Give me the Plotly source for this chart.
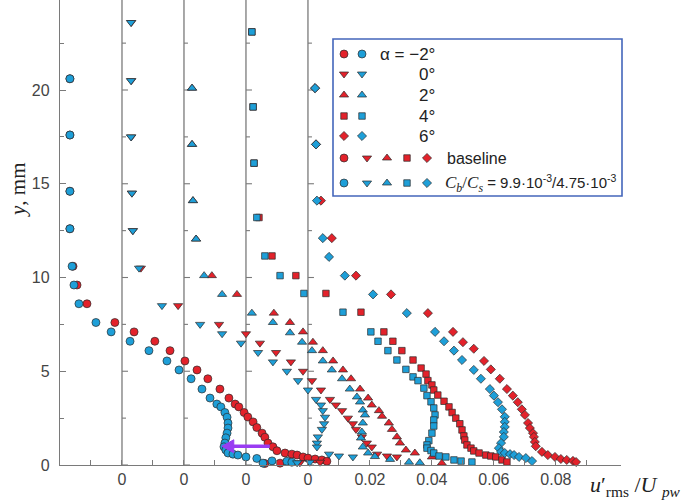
import plotly.graph_objects as go

# ---------------- data (u'rms/Upw raw values, y in mm) ----------------
alphas = ["-2", "0", "2", "4", "6"]
profile_offsets = [-0.08, -0.06, -0.04, -0.02, 0.0]   # horizontal shift of each profile

y_m2_base = [20.6, 17.6, 14.6, 12.6, 10.6, 9.6, 8.6, 7.6, 7.1, 6.6, 6.1, 5.55, 5.07, 4.6, 4.05, 3.57, 3.25, 3.1, 2.8,
             2.56, 2.3, 2.0, 1.7, 1.48, 1.17, 0.97, 0.76, 0.64, 0.58, 0.53, 0.43, 0.37, 0.32, 0.27, 0.2, 0.1, 0.08]
u_m2_base = [0.0032, 0.0032, 0.0032, 0.0032, 0.0042, 0.0055, 0.0087, 0.0177, 0.0239, 0.0306, 0.0355, 0.0403, 0.0442,
             0.0477, 0.0516, 0.0545, 0.0565, 0.0577, 0.0594, 0.0606, 0.0623, 0.0635, 0.0652, 0.0661, 0.0671, 0.0687,
             0.070, 0.0726, 0.0748, 0.0765, 0.0784, 0.080, 0.0823, 0.0845, 0.0861, 0.071, 0.0661]
y_m2_ctrl = [20.6, 17.6, 14.6, 12.6, 10.6, 9.6, 8.6, 7.6, 7.1, 6.6, 6.1, 5.55, 5.07, 4.6, 4.05, 3.57, 3.25, 3.1, 2.8,
             2.55, 2.24, 1.97, 1.7, 1.45, 1.17, 0.97, 0.8, 0.64, 0.58, 0.53, 0.43, 0.35, 0.22, 0.2, 0.15, 0.1]
u_m2_ctrl = [0.0032, 0.0032, 0.0032, 0.0032, 0.0039, 0.0045, 0.0061, 0.0116, 0.0165, 0.0226, 0.0287, 0.0345, 0.0384,
             0.0423, 0.0458, 0.0484, 0.0506, 0.0519, 0.0532, 0.0539, 0.0542, 0.0542, 0.0539, 0.0535, 0.0532, 0.0529,
             0.0535, 0.0542, 0.0558, 0.0574, 0.060, 0.0635, 0.0684, 0.0732, 0.0748, 0.0655]

y_0_base = [23.6, 20.5, 17.5, 14.5, 12.5, 10.5, 8.5, 7.5, 7.0, 6.5, 6.0, 5.5, 5.0, 4.5, 4.0, 3.5, 3.2, 2.9, 2.5, 2.2,
            1.9, 1.5, 1.17, 0.96, 0.58, 0.48, 0.43, 0.15, 0.12]
u_0_base = [0.003, 0.003, 0.003, 0.0032, 0.0035, 0.0061, 0.0181, 0.0313, 0.040, 0.0445, 0.0497, 0.0545, 0.0584, 0.0613,
            0.0642, 0.0671, 0.069, 0.071, 0.0729, 0.0745, 0.0755, 0.0774, 0.079, 0.0806, 0.0823, 0.0855, 0.0887,
            0.0639, 0.0574]
y_0_ctrl = [23.6, 20.5, 17.5, 14.5, 12.5, 10.5, 8.5, 7.5, 7.0, 6.5, 6.0, 5.5, 5.0, 4.5, 4.0, 3.5, 3.2, 2.9, 2.55, 2.2,
            1.9, 1.5, 1.17, 0.96, 0.58, 0.48, 0.43, 0.15, 0.12]
u_0_ctrl = [0.0029, 0.0029, 0.0029, 0.0032, 0.0035, 0.0055, 0.0129, 0.0252, 0.0323, 0.0384, 0.0439, 0.0487, 0.0532,
            0.0568, 0.060, 0.0626, 0.0642, 0.0648, 0.0655, 0.0652, 0.0645, 0.0632, 0.0629, 0.0629, 0.0668, 0.070,
            0.0745, 0.0606, 0.0565]

y_2_base = [20.1, 17.1, 14.1, 12.05, 10.1, 9.1, 8.1, 7.6, 7.1, 6.55, 6.1, 5.55, 5.07, 4.6, 4.05, 3.57, 3.2, 2.9, 2.6,
            2.24, 1.9, 1.5, 1.17, 0.8, 0.64, 0.43, 0.1]
u_2_base = [0.0026, 0.0026, 0.0029, 0.0039, 0.009, 0.0171, 0.029, 0.0342, 0.0384, 0.0416, 0.0448, 0.0481, 0.0513,
            0.0539, 0.0568, 0.0594, 0.0606, 0.0629, 0.0639, 0.0661, 0.0671, 0.0687, 0.0697, 0.0716, 0.0745, 0.080,
            0.0832]
y_2_ctrl = [20.1, 17.1, 14.1, 12.05, 10.1, 9.1, 8.1, 7.6, 7.05, 6.55, 6.1, 5.55, 5.07, 4.6, 4.05, 3.63, 3.36, 2.93,
            2.67, 2.24, 1.76, 1.44, 0.96, 0.64, 0.45, 0.3, 0.15, 0.12]
u_2_ctrl = [0.0026, 0.0026, 0.0029, 0.0039, 0.0065, 0.0123, 0.0219, 0.0287, 0.0342, 0.0381, 0.0413, 0.0448, 0.0477,
            0.051, 0.0535, 0.0558, 0.0568, 0.0577, 0.0584, 0.0577, 0.0574, 0.0571, 0.0577, 0.0594, 0.0616, 0.0665,
            0.0726, 0.0761]

y_4_base = [23.1, 19.1, 16.1, 13.2, 11.15, 10.1, 9.15, 8.15, 7.1, 6.6, 6.1, 5.6, 5.17, 4.85, 4.5, 4.27, 4.0, 3.73, 3.4,
            3.1, 2.8, 2.5, 2.2, 1.87, 1.55, 1.33, 1.07, 0.9, 0.75, 0.64, 0.53, 0.48, 0.43, 0.27, 0.16]
u_4_base = [0.0019, 0.0023, 0.0026, 0.0042, 0.0084, 0.0161, 0.0258, 0.0371, 0.0445, 0.0474, 0.0503, 0.0539, 0.0565,
            0.0581, 0.0587, 0.06, 0.0606, 0.0619, 0.0639, 0.0655, 0.0665, 0.0677, 0.069, 0.0697, 0.0703, 0.0706,
            0.0713, 0.0726, 0.0735, 0.0752, 0.0774, 0.079, 0.0806, 0.0826, 0.0842]
y_4_ctrl = [23.1, 19.1, 16.1, 13.2, 11.15, 10.1, 9.15, 8.15, 7.1, 6.6, 6.1, 5.6, 5.1, 4.7, 4.5, 4.1, 3.7, 3.37, 3.04,
            2.67, 2.4, 2.08, 1.7, 1.3, 1.07, 0.9, 0.77, 0.64, 0.48, 0.43, 0.27, 0.21, 0.16]
u_4_ctrl = [0.0019, 0.0023, 0.0026, 0.0035, 0.0061, 0.011, 0.0187, 0.0313, 0.0403, 0.0426, 0.0458, 0.0487, 0.0516,
            0.0539, 0.0555, 0.0574, 0.0584, 0.0597, 0.0606, 0.061, 0.0606, 0.0606, 0.06, 0.059, 0.0584, 0.0584,
            0.0597, 0.0606, 0.0623, 0.0645, 0.0671, 0.0694, 0.0729]

y_6_base = [20.1, 17.1, 14.1, 12.1, 10.1, 9.1, 8.1, 7.1, 6.55, 6.2, 5.55, 5.1, 4.6, 4.05, 3.7, 3.35, 2.97, 2.67, 2.24,
            1.97, 1.7, 1.5, 1.23, 1.0, 0.7, 0.53, 0.43, 0.32, 0.27, 0.22, 0.16]
u_6_base = [0.0023, 0.0026, 0.0042, 0.0077, 0.0155, 0.0268, 0.0387, 0.0468, 0.05, 0.0535, 0.0568, 0.059, 0.0619,
            0.0642, 0.0661, 0.0677, 0.069, 0.07, 0.071, 0.0716, 0.0726, 0.0729, 0.0732, 0.0735, 0.0755, 0.0774,
            0.0797, 0.0816, 0.0835, 0.0855, 0.0865]
y_6_ctrl = [20.1, 17.1, 14.1, 12.1, 11.1, 10.1, 9.1, 8.1, 7.1, 6.6, 6.1, 5.6, 5.07, 4.6, 4.05, 3.7, 3.35, 2.97, 2.57,
            2.3, 2.03, 1.76, 1.5, 1.17, 0.9, 0.7, 0.64, 0.58, 0.53, 0.43, 0.37, 0.21]
u_6_ctrl = [0.0023, 0.0026, 0.0029, 0.0048, 0.0068, 0.0119, 0.021, 0.0319, 0.041, 0.0439, 0.0471, 0.0497, 0.0535,
            0.0558, 0.0587, 0.06, 0.0613, 0.0626, 0.0635, 0.0635, 0.0635, 0.0632, 0.0632, 0.0623, 0.0616, 0.0623,
            0.0635, 0.0652, 0.0665, 0.0681, 0.0703, 0.0723]

x_tick_vals = [-0.06, -0.04, -0.02, 0.0, 0.02, 0.04, 0.06, 0.08]
x_tick_text = ["0", "0", "0", "0", "0.02", "0.04", "0.06", "0.08"]
x_minor_vals = [-0.07, -0.05, -0.03, -0.01, 0.01, 0.03, 0.05, 0.07, 0.09]
y_tick_vals = [0, 5, 10, 15, 20]
y_minor_vals = [2.5, 7.5, 12.5, 17.5, 22.5]

# ---------------- styling ----------------
RED = "#e3222b"
BLUE = "#1e9fd8"
EDGE = "#2b2b2b"
GRAY = "#7a7a7a"
PURPLE = "#9a3cf2"
symbols = ["circle", "triangle-down", "triangle-up", "square", "diamond"]
sizes = [8, 8, 8, 6.5, 7]

# plot-area geometry in pixels (used only to place legend/titles)
PL, PT, PW, PH = 60, 0, 561, 465


def px_to_paper(px, py):
    return (px - PL) / PW, (PT + PH - py) / PH


base_y = [y_m2_base, y_0_base, y_2_base, y_4_base, y_6_base]
base_u = [u_m2_base, u_0_base, u_2_base, u_4_base, u_6_base]
ctrl_y = [y_m2_ctrl, y_0_ctrl, y_2_ctrl, y_4_ctrl, y_6_ctrl]
ctrl_u = [u_m2_ctrl, u_0_ctrl, u_2_ctrl, u_4_ctrl, u_6_ctrl]

fig = go.Figure()

for i in range(5):
    off = profile_offsets[i]
    fig.add_trace(go.Scatter(
        x=[u + off for u in base_u[i]], y=base_y[i], mode="markers",
        marker=dict(symbol=symbols[i], size=sizes[i], color=RED, line=dict(color=EDGE, width=0.7)),
        showlegend=False, cliponaxis=False, name=f"baseline α={alphas[i]}"))
for i in range(5):
    off = profile_offsets[i]
    fig.add_trace(go.Scatter(
        x=[u + off for u in ctrl_u[i]], y=ctrl_y[i], mode="markers",
        marker=dict(symbol=symbols[i], size=sizes[i], color=BLUE, line=dict(color=EDGE, width=0.7)),
        showlegend=False, cliponaxis=False, name=f"control α={alphas[i]}"))

# ---------------- zero lines of shifted profiles with their small ticks ----------------
shapes = []
px_per_unit_x = 3100.0   # pixels per unit of u'/U
px_per_mm = 18.75        # pixels per mm of y
for off in profile_offsets[1:]:
    shapes.append(dict(type="line", xref="x", yref="paper", x0=off, x1=off, y0=0, y1=1,
                       line=dict(color=GRAY, width=1.3), layer="below"))
    for k in range(10):
        yv = 2.5 * k
        ln = 6 if k % 2 == 0 else 4
        shapes.append(dict(type="line", xref="x", yref="y", x0=off, x1=off + ln / px_per_unit_x, y0=yv, y1=yv,
                           line=dict(color=GRAY, width=1.1), layer="below"))

# purple arrow (baseline -> control, alpha = -2 at y ~ 1 mm)
arrow_y = 1.0
arrow_from = profile_offsets[0] + 0.0677
arrow_to = profile_offsets[0] + 0.0522
head_len = 12 / px_per_unit_x
head_half = 6.5 / px_per_mm
shapes.append(dict(type="line", xref="x", yref="y", x0=arrow_from, x1=arrow_to + head_len * 0.8,
                   y0=arrow_y, y1=arrow_y, line=dict(color=PURPLE, width=3.5)))
shapes.append(dict(type="path", xref="x", yref="y",
                   path=(f"M {arrow_to},{arrow_y} L {arrow_to + head_len},{arrow_y + head_half} "
                         f"L {arrow_to + head_len},{arrow_y - head_half} Z"),
                   fillcolor=PURPLE, line=dict(color=PURPLE, width=1)))

# ---------------- legend (box in paper coords, markers in a pixel-coordinate overlay axis) ----------------
bx0, by0 = px_to_paper(333, 196)
bx1, by1 = px_to_paper(622, 39)
shapes.append(dict(type="rect", xref="paper", yref="paper", x0=bx0, x1=bx1, y0=by0, y1=by1,
                   line=dict(color="#4466bb", width=1.6), fillcolor="white", layer="below"))

leg_rows_y = [54, 74, 95, 116, 136]
for i in range(5):
    fig.add_trace(go.Scatter(x=[344, 362], y=[leg_rows_y[i]] * 2, xaxis="x2", yaxis="y2", mode="markers",
                             marker=dict(symbol=symbols[i], size=sizes[i], color=[RED, BLUE],
                                         line=dict(color=EDGE, width=0.7)),
                             showlegend=False, cliponaxis=False, hoverinfo="skip"))
leg_cols_x = [344, 367, 387, 407, 427]
for i in range(5):
    fig.add_trace(go.Scatter(x=[leg_cols_x[i]] * 2, y=[158, 183], xaxis="x2", yaxis="y2", mode="markers",
                             marker=dict(symbol=symbols[i], size=sizes[i], color=[RED, BLUE],
                                         line=dict(color=EDGE, width=0.7)),
                             showlegend=False, cliponaxis=False, hoverinfo="skip"))

annotations = []
leg_font = dict(family="Liberation Sans", size=17, color="#222")
labels = ["α = −2°", "0°", "2°", "4°", "6°"]
for i in range(5):
    annotations.append(dict(x=437, y=leg_rows_y[i], xref="x2", yref="y2", text=labels[i], showarrow=False,
                            xanchor="right", yanchor="middle", font=leg_font))
annotations.append(dict(x=445, y=158, xref="x2", yref="y2", text="baseline", showarrow=False,
                        xanchor="left", yanchor="middle", font=dict(family="Liberation Sans", size=16, color="#222")))
annotations.append(dict(
    x=443, y=183, xref="x2", yref="y2", showarrow=False, xanchor="left", yanchor="middle",
    text=("<span style='font-family:Liberation Serif;font-size:17px'><i>C</i><sub><i>b</i></sub>/"
          "<i>C</i><sub><i>s</i></sub></span> = 9.9·10<sup>-3</sup>/4.75·10<sup>-3</sup>"),
    font=dict(family="Liberation Sans", size=15, color="#222")))

# axis titles
yx, yy = px_to_paper(18, 190)
annotations.append(dict(x=yx, y=yy, xref="paper", yref="paper", text="<i>y</i>, mm",
                        showarrow=False, textangle=-90, xanchor="center", yanchor="middle",
                        font=dict(family="Liberation Serif", size=21, color="#222")))
ux, uy = px_to_paper(588, 486)
annotations.append(dict(x=ux, y=uy, xref="paper", yref="paper",
                        text="<i>u</i>′<sub>rms</sub> /<i>U</i> <sub><i>pw</i></sub>",
                        showarrow=False, xanchor="left", yanchor="middle",
                        font=dict(family="Liberation Serif", size=22, color="#222")))

fig.update_layout(
    width=685, height=502,
    margin=dict(l=PL, r=685 - PL - PW, t=PT, b=502 - PT - PH),
    paper_bgcolor="white", plot_bgcolor="white",
    shapes=shapes, annotations=annotations,
    xaxis=dict(range=[-0.08, 0.101], tickvals=x_tick_vals, ticktext=x_tick_text, ticks="inside", ticklen=5,
               tickcolor=GRAY, showline=True, linecolor=GRAY, linewidth=1.3, showgrid=False, zeroline=False,
               minor=dict(tickvals=x_minor_vals, ticks="inside", ticklen=5, tickcolor=GRAY),
               tickfont=dict(family="Liberation Sans", size=16, color="#444")),
    yaxis=dict(range=[0, 24.8], tickvals=y_tick_vals, ticks="inside", ticklen=6, tickcolor=GRAY,
               minor=dict(tickvals=y_minor_vals, ticks="inside", ticklen=4, tickcolor=GRAY),
               showline=True, linecolor=GRAY, linewidth=1.3, showgrid=False, zeroline=False,
               ticklabelstandoff=6,
               tickfont=dict(family="Liberation Sans", size=16, color="#444")),
    xaxis2=dict(range=[PL, PL + PW], overlaying="x", visible=False, anchor="y2"),
    yaxis2=dict(range=[PT + PH, PT], overlaying="y", visible=False, anchor="x2"),
)

fig.write_html("out.html", config={"displayModeBar": False},
               post_script="document.body.style.margin='0';")
